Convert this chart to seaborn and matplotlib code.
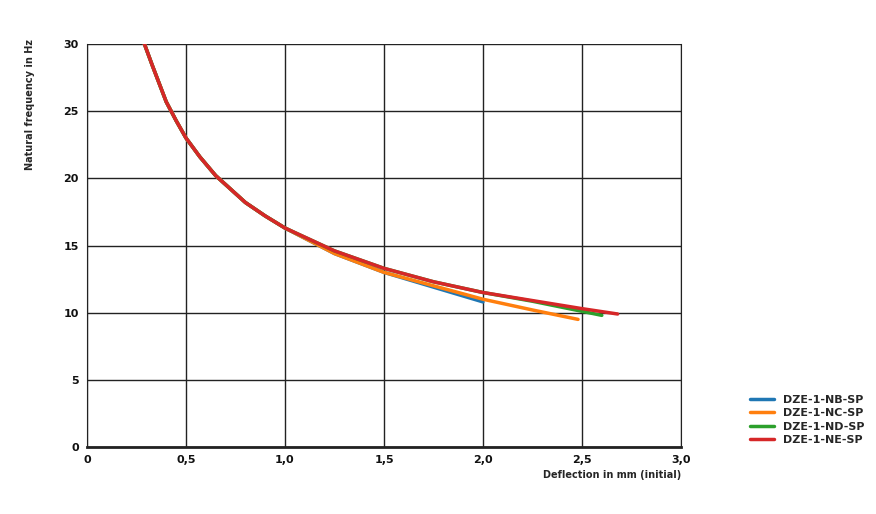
import pandas as pd
import seaborn as sns
import matplotlib
matplotlib.use("Agg")
import matplotlib.pyplot as plt

nb_x = [0.29, 0.33, 0.4, 0.45, 0.5, 0.57, 0.65, 0.8, 0.9, 1.0, 1.25, 1.5, 1.75, 2.0]
nb_y = [30.0, 28.4, 25.7, 24.3, 23.0, 21.6, 20.2, 18.2, 17.2, 16.3, 14.4, 13.0, 11.9, 10.8]
nc_x = [0.29, 0.33, 0.4, 0.45, 0.5, 0.57, 0.65, 0.8, 0.9, 1.0, 1.25, 1.5, 1.75, 2.0, 2.25, 2.48]
nc_y = [30.0, 28.4, 25.7, 24.3, 23.0, 21.6, 20.2, 18.2, 17.2, 16.3, 14.4, 13.0, 12.0, 11.0, 10.2, 9.5]
nd_x = [0.29, 0.33, 0.4, 0.45, 0.5, 0.57, 0.65, 0.8, 0.9, 1.0, 1.25, 1.5, 1.75, 2.0, 2.25, 2.5, 2.6]
nd_y = [30.0, 28.4, 25.7, 24.3, 23.0, 21.6, 20.2, 18.2, 17.2, 16.3, 14.6, 13.3, 12.3, 11.5, 10.85, 10.1, 9.8]
ne_x = [0.29, 0.33, 0.4, 0.45, 0.5, 0.57, 0.65, 0.8, 0.9, 1.0, 1.25, 1.5, 1.75, 2.0, 2.25, 2.5, 2.68]
ne_y = [30.0, 28.4, 25.7, 24.3, 23.0, 21.6, 20.2, 18.2, 17.2, 16.3, 14.6, 13.3, 12.3, 11.5, 10.9, 10.3, 9.9]
names = ["DZE-1-NB-SP", "DZE-1-NC-SP", "DZE-1-ND-SP", "DZE-1-NE-SP"]
colors = ["#1f77b4", "#ff7f0e", "#2ca02c", "#d62728"]

frames = []
for name, xs, ys in zip(names, [nb_x, nc_x, nd_x, ne_x], [nb_y, nc_y, nd_y, ne_y]):
    frames.append(pd.DataFrame({"x": xs, "y": ys, "type": name}))
df = pd.concat(frames)

sns.set_style("white")
plt.rcParams['font.family'] = ['DejaVu Sans']
fig = plt.figure(figsize=(8.76, 5.14), dpi=100)
ax = fig.add_axes([87 / 876, 1 - 447 / 514, (681 - 87) / 876, (447 - 44) / 514])

sns.lineplot(data=df, x="x", y="y", hue="type", palette=colors, sort=False,
             linewidth=2.5, ax=ax)

ax.set_xlim(0, 3.0)
ax.set_ylim(0, 30)
ax.set_xticks([0, 0.5, 1.0, 1.5, 2.0, 2.5, 3.0])
ax.set_xticklabels(["0", "0,5", "1,0", "1,5", "2,0", "2,5", "3,0"], fontsize=8, fontweight="bold")
ax.set_yticks([0, 5, 10, 15, 20, 25, 30])
ax.set_yticklabels([str(v) for v in range(0, 31, 5)], fontsize=8, fontweight="bold")
ax.grid(True, color="#222222", linewidth=1)
for s in ax.spines.values():
    s.set_color("#222222")
ax.spines["top"].set_visible(False)
ax.spines["bottom"].set_linewidth(2)
ax.tick_params(length=0, pad=6, labelcolor="#111111")
ax.set_xlabel("")
ax.set_ylabel("")
fig.text(30 / 876, 1 - 105 / 514, "Natural frequency in Hz", rotation=90, fontsize=7,
         fontweight="bold", ha="center", va="center")
fig.text(681 / 876, 1 - 475 / 514, "Deflection in mm (initial)", fontsize=7,
         fontweight="bold", ha="right", va="center")

handles, labels = ax.get_legend_handles_labels()
ax.legend(handles, labels, loc="lower left", bbox_to_anchor=(740 / 876, 1 - 455 / 514),
          bbox_transform=fig.transFigure, frameon=False, prop={"size": 8, "weight": "bold"},
          handlelength=2.2, labelspacing=0.3)

fig.savefig("out.png", dpi=100)
